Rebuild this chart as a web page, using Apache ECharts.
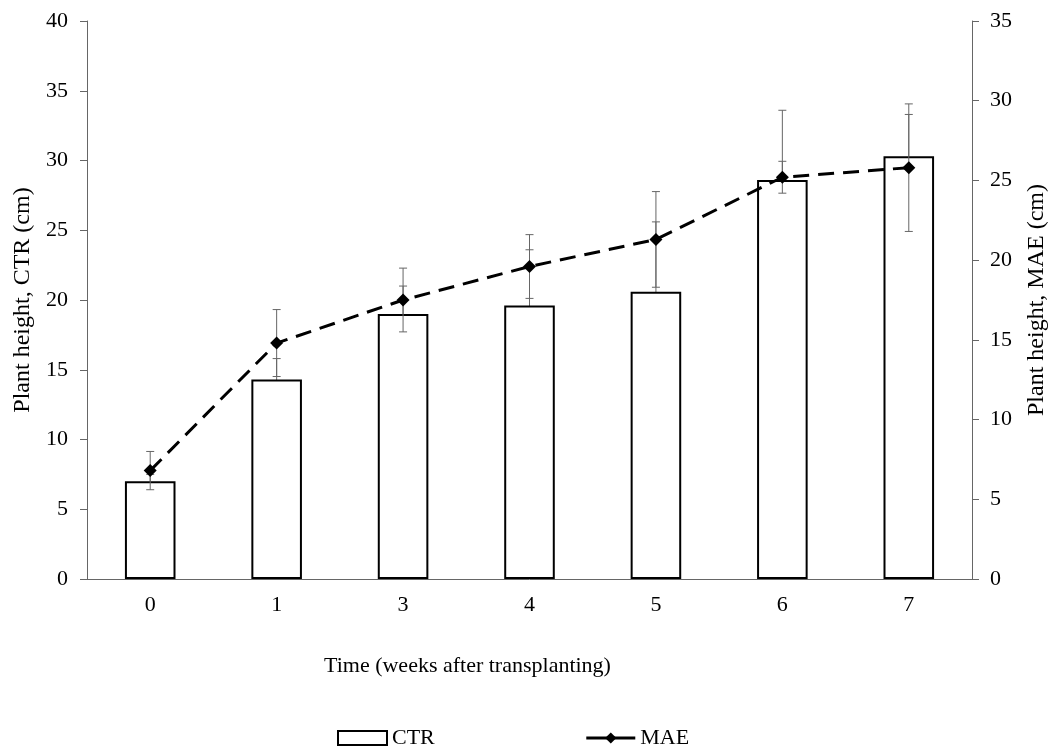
<!DOCTYPE html>
<html>
<head>
<meta charset="utf-8">
<script src="https://cdn.jsdelivr.net/npm/echarts@6/dist/echarts.min.js"></script>
<style>
  html, body { margin: 0; padding: 0; background: #fff; }
  #chart { width: 1050px; height: 747px; }
</style>
</head>
<body>
<div id="chart"></div>
<script>
var weeks = ['0', '1', '3', '4', '5', '6', '7'];
var ctr = [7.0, 14.3, 19.0, 19.6, 20.6, 28.6, 30.3];
var ctrErr = [0.5, 1.5, 2.0, 4.0, 5.0, 5.0, 3.0];
var mae = [6.8, 14.8, 17.5, 19.6, 21.3, 25.2, 25.8];
var maeErr = [1.2, 2.1, 2.0, 2.0, 3.0, 1.0, 4.0];

var font = 'Liberation Serif';

function errBars(vals, errs) {
  return vals.map(function (v, i) { return [i, v - errs[i], v + errs[i]]; });
}

function renderErr(params, api) {
  var lo = api.coord([api.value(0), api.value(1)]);
  var hi = api.coord([api.value(0), api.value(2)]);
  var w = 4;
  var st = { stroke: '#666', lineWidth: 1 };
  return {
    type: 'group',
    children: [
      { type: 'line', shape: { x1: lo[0], y1: lo[1], x2: hi[0], y2: hi[1] }, style: st },
      { type: 'line', shape: { x1: lo[0] - w, y1: lo[1], x2: lo[0] + w, y2: lo[1] }, style: st },
      { type: 'line', shape: { x1: hi[0] - w, y1: hi[1], x2: hi[0] + w, y2: hi[1] }, style: st }
    ]
  };
}

var chart = echarts.init(document.getElementById('chart'));
chart.setOption({
  animation: false,
  textStyle: { fontFamily: font, color: '#000' },
  grid: { left: 87, right: 78, top: 21, bottom: 168, outerBoundsMode: 'none' },
  legend: {
    left: 332,
    top: 722,
    itemWidth: 49,
    itemHeight: 14,
    itemGap: 150,
    textStyle: { fontFamily: font, fontSize: 22, color: '#000' },
    data: [
      { name: 'CTR', icon: 'rect' },
      { name: 'MAE', lineStyle: { type: 'solid', width: 3 } }
    ]
  },
  graphic: [{
    type: 'text',
    left: 324,
    top: 655,
    style: { text: 'Time (weeks after transplanting)', font: '22px "Liberation Serif"', fill: '#000' }
  }],
  xAxis: {
    type: 'category',
    data: weeks,
    axisLine: { lineStyle: { color: '#666' } },
    axisTick: { length: 7, lineStyle: { color: '#666' } },
    axisLabel: { fontFamily: font, fontSize: 22, color: '#000', margin: 15 }
  },
  yAxis: [{
    type: 'value',
    min: 0, max: 40, interval: 5,
    name: 'Plant height, CTR (cm)',
    nameLocation: 'middle',
    nameGap: 50,
    nameTextStyle: { fontFamily: font, fontSize: 24, color: '#000' },
    splitLine: { show: false },
    axisLine: { show: true, lineStyle: { color: '#666' } },
    axisTick: { show: true, length: 7, lineStyle: { color: '#666' } },
    axisLabel: { fontFamily: font, fontSize: 22, color: '#000', margin: 19 }
  }, {
    type: 'value',
    min: 0, max: 35, interval: 5,
    name: 'Plant height, MAE (cm)',
    nameLocation: 'middle',
    nameGap: 53,
    nameTextStyle: { fontFamily: font, fontSize: 24, color: '#000' },
    splitLine: { show: false },
    axisLine: { show: true, lineStyle: { color: '#666' } },
    axisTick: { show: true, length: 7, lineStyle: { color: '#666' } },
    axisLabel: { fontFamily: font, fontSize: 22, color: '#000', margin: 18 }
  }],
  series: [{
    name: 'CTR',
    type: 'bar',
    data: ctr,
    barWidth: '40%',
    z: 2,
    itemStyle: { color: '#fff', borderColor: '#000', borderWidth: 2 }
  }, {
    name: 'CTR err',
    type: 'custom',
    yAxisIndex: 0,
    z: 1,
    data: errBars(ctr, ctrErr),
    renderItem: renderErr,
    encode: { x: 0, y: [1, 2] }
  }, {
    name: 'MAE err',
    type: 'custom',
    yAxisIndex: 1,
    z: 3,
    data: errBars(mae, maeErr),
    renderItem: renderErr,
    encode: { x: 0, y: [1, 2] }
  }, {
    name: 'MAE',
    type: 'line',
    yAxisIndex: 1,
    data: mae,
    z: 4,
    symbol: 'diamond',
    symbolSize: 13,
    itemStyle: { color: '#000' },
    lineStyle: { color: '#000', width: 3, type: [16, 9] }
  }]
});
</script>
</body>
</html>
